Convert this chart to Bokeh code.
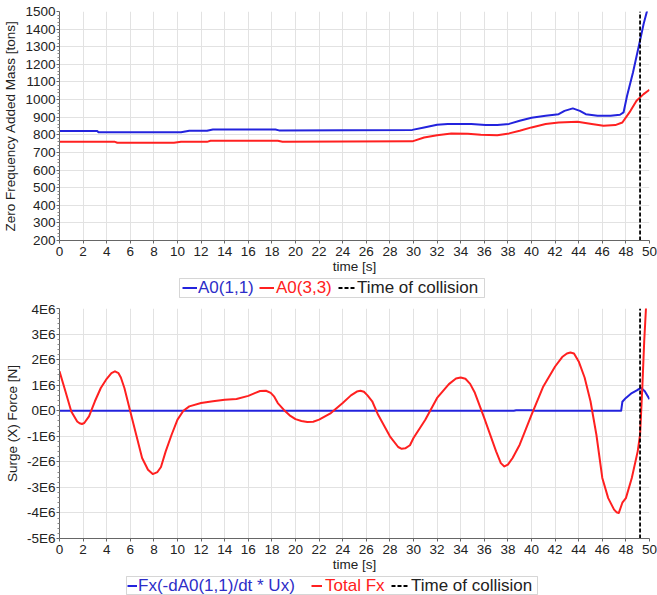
from bokeh.plotting import figure
from bokeh.models import (Legend, LegendItem, BoxAnnotation, FixedTicker, Range1d)
from bokeh.layouts import column
from bokeh.embed import file_html
from bokeh.resources import INLINE

# ---------------- data ----------------
collision_time = 49.2

# top panel: zero frequency added mass [tons]
t_a11 = [0, 3.2, 3.3, 10.3, 11.0, 12.5, 13.0, 18.3, 18.6, 29.9, 30.9, 32.0, 32.9,
         34.9, 36.1, 37.1, 38.1, 39.0, 40.0, 41.2, 42.3, 42.8, 43.5, 44.1, 44.6,
         45.6, 46.7, 47.5, 47.8, 48.1, 48.6, 49.1, 49.5, 49.8, 50.0]
a11 = [821, 821, 815, 815, 823, 823, 830, 830, 825, 828, 842, 857, 862,
       861, 855, 855, 862, 880, 897, 908, 917, 936, 950, 936, 917,
       908, 908, 914, 927, 1022, 1154, 1306, 1429, 1505, 1560]

t_a33 = [0, 4.7, 4.9, 9.7, 10.3, 12.5, 12.8, 18.5, 18.9, 29.9, 30.9, 32.0, 33.2,
         34.6, 35.7, 37.1, 38.1, 39.0, 40.0, 41.2, 42.3, 43.9, 45.1, 46.1, 47.1,
         47.7, 48.3, 48.9, 49.5, 50.0]
a33 = [760, 760, 755, 755, 760, 760, 766, 766, 761, 763, 785, 798, 808,
       806, 800, 798, 808, 823, 842, 861, 870, 874, 861, 851, 855,
       870, 927, 993, 1031, 1056]

mass_ticks = [200, 300, 400, 500, 600, 700, 800, 900, 1000, 1100, 1200, 1300, 1400, 1500]
time_ticks = [0, 2, 4, 6, 8, 10, 12, 14, 16, 18, 20, 22, 24, 26, 28, 30, 32, 34, 36,
              38, 40, 42, 44, 46, 48, 50]

# bottom panel: surge force [N]
t_total = [0, 0.5, 1.0, 1.5, 1.7, 1.9, 2.1, 2.5, 3.0, 3.5, 4.0, 4.4, 4.7, 5.0, 5.2,
           5.5, 6.0, 6.5, 7.0, 7.5, 7.9, 8.3, 8.6, 9.0, 9.5, 10.0, 10.5, 11.0, 12.0,
           13.0, 14.0, 15.0, 16.0, 16.6, 17.0, 17.5, 17.9, 18.2, 18.5, 19.0, 19.5,
           20.0, 20.5, 21.0, 21.5, 22.0, 23.0, 24.0, 24.7, 25.2, 25.5, 25.8, 26.1,
           26.5, 27.0, 28.0, 28.7, 29.0, 29.3, 29.7, 30.0, 31.0, 32.0, 33.0, 33.6,
           34.0, 34.4, 34.8, 35.2, 36.0, 37.0, 37.4, 37.7, 38.0, 38.4, 39.0, 40.0,
           41.0, 42.0, 42.6, 43.0, 43.3, 43.6, 44.0, 44.5, 45.0, 45.5, 46.0, 46.5,
           47.0, 47.2, 47.4, 47.7, 48.0, 48.5, 49.0, 49.2, 49.4, 49.55, 49.7, 50.0]
total_fx = [1.54e6, 0.76e6, -0.03e6, -0.42e6, -0.49e6, -0.52e6, -0.48e6, -0.22e6,
            0.37e6, 0.89e6, 1.25e6, 1.47e6, 1.54e6, 1.47e6, 1.30e6, 0.89e6, -0.03e6,
            -0.94e6, -1.85e6, -2.31e6, -2.48e6, -2.40e6, -2.20e6, -1.59e6, -0.94e6,
            -0.35e6, 0.0, 0.17e6, 0.30e6, 0.37e6, 0.43e6, 0.46e6, 0.58e6, 0.70e6,
            0.77e6, 0.78e6, 0.70e6, 0.55e6, 0.30e6, 0.04e6, -0.18e6, -0.33e6, -0.40e6,
            -0.44e6, -0.43e6, -0.35e6, -0.09e6, 0.30e6, 0.60e6, 0.75e6, 0.78e6,
            0.74e6, 0.60e6, 0.37e6, -0.16e6, -1.00e6, -1.42e6, -1.49e6, -1.47e6,
            -1.35e6, -1.07e6, -0.35e6, 0.50e6, 1.04e6, 1.26e6, 1.30e6, 1.25e6, 1.05e6,
            0.70e6, -0.29e6, -1.59e6, -2.05e6, -2.18e6, -2.11e6, -1.85e6, -1.33e6,
            -0.16e6, 0.95e6, 1.73e6, 2.10e6, 2.24e6, 2.28e6, 2.24e6, 1.93e6, 1.30e6,
            0.37e6, -0.94e6, -2.63e6, -3.42e6, -3.87e6, -3.97e6, -4.0e6, -3.6e6,
            -3.42e6, -2.63e6, -1.59e6, -0.94e6, 1.0e6, 2.7e6, 4.0e6, 6.5e6]

t_fx = [0, 38.5, 38.7, 40.0, 40.3, 47.6, 47.7, 48.0, 48.5, 49.0, 49.3, 49.6, 50.0]
fx_da = [0, 0, 0.02e6, 0.02e6, 0, 0, 0.35e6, 0.5e6, 0.69e6, 0.82e6, 0.89e6, 0.76e6, 0.45e6]

force_ticks = [-5e6, -4e6, -3e6, -2e6, -1e6, 0, 1e6, 2e6, 3e6, 4e6]
force_labels = ["-5E6", "-4E6", "-3E6", "-2E6", "-1E6", "0E0", "1E6", "2E6", "3E6", "4E6"]

BLUE = "#2323dd"
RED = "#ff2020"
BLUE_TXT = "#2d2dc8"
FONT = "Liberation Sans"
LEFT = 59  # frame left edge shared by the aligned column children
NAN = float("nan")


def style(p, yticks, yminor):
    p.outline_line_color = None
    p.background_fill_color = "white"
    p.border_fill_color = "white"
    p.xaxis.ticker = FixedTicker(ticks=time_ticks, minor_ticks=[])
    p.yaxis.ticker = FixedTicker(ticks=yticks, minor_ticks=yminor)
    for ax in (p.xaxis[0], p.yaxis[0]):
        ax.axis_line_color = "#666666"
        ax.major_tick_line_color = "#666666"
        ax.minor_tick_line_color = "#888888"
        ax.major_tick_out = 3
        ax.major_tick_in = 0
        ax.minor_tick_out = 2
        ax.minor_tick_in = 0
        ax.major_label_text_font = FONT
        ax.major_label_text_font_size = "13.5px"
        ax.major_label_text_color = "#222222"
        ax.axis_label_text_font = FONT
        ax.axis_label_text_font_size = "13.5px"
        ax.axis_label_text_font_style = "normal"
        ax.axis_label_text_color = "#222222"
    p.xaxis.major_label_standoff = 3
    p.xaxis.axis_label_standoff = 0
    p.yaxis.major_label_standoff = 1
    p.yaxis.axis_label_standoff = 4
    p.xgrid.grid_line_color = "#e2e2e2"
    p.ygrid.grid_line_color = "#e2e2e2"
    p.xaxis.axis_label = "time [s]"


def legend_strip(height, entries, box):
    """A strip figure holding a boxed, horizontal legend with coloured labels.
    entries: (label, line colour, dash, text colour, glyph x (page px), glyph width, standoff)
    box: (left, right, top, bottom) with x in page px, y upward from strip bottom"""
    s = figure(width=657, height=height, min_border=0, x_axis_type=None,
               y_axis_type=None, x_range=Range1d(0, 1), y_range=Range1d(0, 1),
               output_backend="svg", toolbar_location=None)
    s.outline_line_color = None
    s.xgrid.visible = False
    s.ygrid.visible = False
    left, right, top, bottom = box
    s.add_layout(BoxAnnotation(left=left - LEFT, right=right - LEFT, top=top, bottom=bottom,
                               left_units="screen", right_units="screen",
                               top_units="screen", bottom_units="screen",
                               fill_color="white", fill_alpha=1.0,
                               line_color="#777777", line_width=1))
    for label, lc, dash, tc, x, gw, so in entries:
        # legend-only renderer: a single undefined point draws nothing in the strip
        r = s.line([NAN], [NAN], line_color=lc, line_width=2, line_dash=dash)
        lg = Legend(items=[LegendItem(label=label, renderers=[r])],
                    location=(x - LEFT, top - 19.5), orientation="horizontal",
                    padding=0, margin=0, spacing=0, label_standoff=so,
                    glyph_width=gw, glyph_height=19, label_height=19,
                    label_text_font=FONT, label_text_font_size="17px",
                    label_text_color=tc, border_line_color=None,
                    background_fill_alpha=0)
        s.add_layout(lg, "center")
    return s


# ---------------- top panel ----------------
p1 = figure(frame_width=590, frame_height=229, min_border_left=LEFT, min_border_right=8,
            min_border_top=11, min_border_bottom=35,
            x_range=Range1d(0, 50), y_range=Range1d(200, 1500),
            output_backend="svg", toolbar_location=None)
style(p1, mass_ticks, [v for v in range(200, 1500, 20) if v % 100])
p1.yaxis.axis_label = "Zero Frequency Added Mass [tons]"
p1.line(t_a11, a11, line_color=BLUE, line_width=2, line_join="round")
p1.line(t_a33, a33, line_color=RED, line_width=2, line_join="round")
p1.segment(x0=[collision_time], y0=[mass_ticks[0]], x1=[collision_time],
           y1=[mass_ticks[-1]], line_color="black", line_width=1.8, line_dash="4 2")

leg1 = legend_strip(25, [("A0(1,1)", BLUE, "solid", BLUE_TXT, 182, 15, 1),
                         ("A0(3,3)", RED, "solid", RED, 259, 15, 2),
                         ("Time of collision", "black", "4 2", "#222222", 338, 17, 2)],
                    (179, 484, 23, 4))

# ---------------- bottom panel ----------------
p2 = figure(frame_width=590, frame_height=230, min_border_left=LEFT, min_border_right=8,
            min_border_top=7, min_border_bottom=35,
            x_range=Range1d(0, 50), y_range=Range1d(force_ticks[0], force_ticks[-1]),
            output_backend="svg", toolbar_location=None)
style(p2, force_ticks, [v * 1e5 for v in range(-50, 40, 2) if v % 10])
p2.yaxis.major_label_overrides = {float(v): s for v, s in zip(force_ticks, force_labels)}
p2.yaxis.axis_label = "Surge (X) Force [N]"
p2.line(t_fx, fx_da, line_color=BLUE, line_width=2, line_join="round")
p2.line(t_total, total_fx, line_color=RED, line_width=2, line_join="round")
p2.segment(x0=[collision_time], y0=[force_ticks[0]], x1=[collision_time],
           y1=[force_ticks[-1]], line_color="black", line_width=1.8, line_dash="4 2")

leg2 = legend_strip(23, [("Fx(-dA0(1,1)/dt * Ux)", BLUE, "solid", BLUE_TXT, 127, 10, 1),
                         ("Total Fx", RED, "solid", RED, 311, 11, 3),
                         ("Time of collision", "black", "4 2", "#222222", 391, 17, 3)],
                    (126, 537, 21, 3))

layout = column(p1, leg1, p2, leg2, spacing=0)
open("out.html", "w").write(file_html(layout, INLINE))
